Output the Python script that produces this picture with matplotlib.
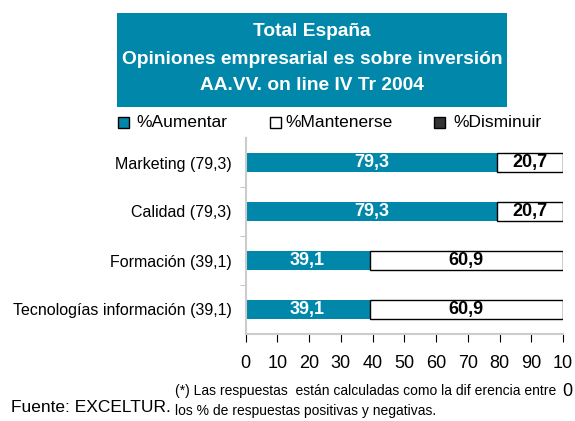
import matplotlib
matplotlib.use("Agg")
import matplotlib.pyplot as plt
from matplotlib.patches import Rectangle

plt.rcParams['font.family'] = ['Liberation Sans', 'DejaVu Sans']

categories = ["Marketing (79,3)", "Calidad (79,3)", "Formación (39,1)",
              "Tecnologías información (39,1)"]
aumentar = [79.3, 79.3, 39.1, 39.1]
mantenerse = [20.7, 20.7, 60.9, 60.9]
disminuir = [0.0, 0.0, 0.0, 0.0]
series_names = ["%Aumentar", "%Mantenerse", "%Disminuir"]
xticks = [0, 10, 20, 30, 40, 50, 60, 70, 80, 90, 100]
xtick_labels = ["0", "10", "20", "30", "40", "50", "60", "70", "80", "90", "10"]
title_lines = ["Total España", "Opiniones empresarial es sobre inversión",
               "AA.VV. on line IV Tr 2004"]

TEAL = "#0087aa"
DARK = "#333333"
W, H = 575, 421

fig = plt.figure(figsize=(W / 100, H / 100), dpi=100)
ax = fig.add_axes([245.5 / W, 1 - 334 / H, (563 - 245.5) / W, (334 - 138) / H])

ypos = list(range(len(categories)))
bh = 0.39
ax.barh(ypos, aumentar, height=bh, color=TEAL, edgecolor='none')
ax.barh(ypos, mantenerse, left=aumentar, height=bh, color='white',
        edgecolor='black', linewidth=1.0)
left3 = [a + m for a, m in zip(aumentar, mantenerse)]
ax.barh(ypos, disminuir, left=left3, height=bh, color=DARK, edgecolor='none')

for y, a, m in zip(ypos, aumentar, mantenerse):
    ax.text(a / 2, y, f"{a:.1f}".replace('.', ','), ha='center', va='center',
            color='white', fontsize=13, fontweight='bold')
    ax.text(a + m / 2, y, f"{m:.1f}".replace('.', ','), ha='center', va='center',
            color='black', fontsize=13, fontweight='bold')

ax.set_xlim(0, 100)
ax.set_ylim(len(categories) - 0.5, -0.5)
ax.set_yticks(ypos)
ax.set_yticklabels(categories, fontsize=11.5)
ax.set_yticks([0.5, 1.5, 2.5], minor=True)
ax.tick_params(axis='y', which='major', length=0, pad=10)
ax.tick_params(axis='y', which='minor', length=4, color='#bbbbbb', direction='out')
ax.set_xticks(xticks)
ax.set_xticklabels(xtick_labels, fontsize=13)
ax.tick_params(axis='x', length=6, color='black', pad=9)
for s in ['top', 'right']:
    ax.spines[s].set_visible(False)
for s in ['left', 'bottom']:
    ax.spines[s].set_color('#cccccc')
    ax.spines[s].set_linewidth(1.5)

# wrapped last tick label remainder
fig.text(567 / W, 1 - 391 / H, "0", ha='center', va='center', fontsize=13)

# title box
fig.patches.append(Rectangle((117 / W, 1 - 107 / H), (507 - 117) / W, (107 - 13) / H,
                             transform=fig.transFigure, facecolor=TEAL,
                             edgecolor='none', zorder=0))
for i, line in enumerate(title_lines):
    fig.text(312 / W, 1 - (32 + 27 * i) / H, line, ha='center', va='center',
             color='white', fontsize=13.8, fontweight='bold')

# legend
leg = [(118, TEAL, 136), (270, 'white', 285), (434, DARK, 453)]
for (sx, col, tx), name in zip(leg, series_names):
    fig.patches.append(Rectangle((sx / W, 1 - 128 / H), 11 / W, 11 / H,
                                 transform=fig.transFigure, facecolor=col,
                                 edgecolor='black', linewidth=1.0))
    fig.text(tx / W, 1 - 122 / H, name, ha='left', va='center', fontsize=12.5)

# footer
fig.text(11 / W, 1 - 407 / H, "Fuente: EXCELTUR.", ha='left', va='center', fontsize=12.5)
fig.text(175 / W, 1 - 391 / H,
         "(*) Las respuestas  están calculadas como la dif erencia entre",
         ha='left', va='center', fontsize=10)
fig.text(175 / W, 1 - 411 / H, "los % de respuestas positivas y negativas.",
         ha='left', va='center', fontsize=10)

fig.savefig("out.png", dpi=100)
